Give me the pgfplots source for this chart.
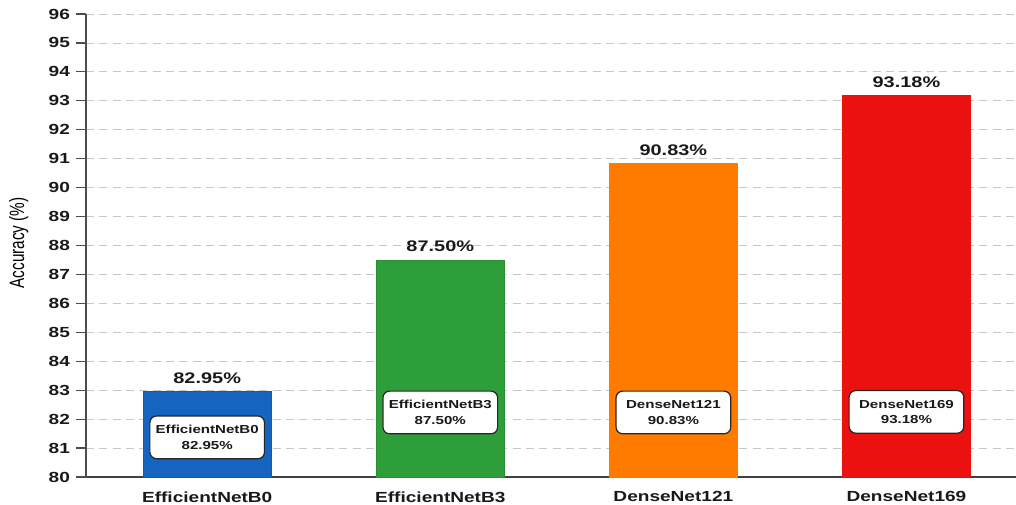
\documentclass[border=0pt]{standalone}
\usepackage{graphicx}
\usepackage{pgfplots}
\pgfplotsset{compat=1.18}
\usepackage{fontspec}
\setmainfont{Liberation Sans}[FakeStretch=1.3]
\newfontfamily\ylabfont{Liberation Sans}
\definecolor{cblue}{RGB}{21,101,192}
\definecolor{cgreen}{RGB}{46,158,58}
\definecolor{corange}{RGB}{255,123,0}
\definecolor{cred}{RGB}{236,17,17}
\begin{document}
\begin{tikzpicture}
\begin{axis}[
  width=697.5pt, height=347.25pt, scale only axis,
  ymin=80, ymax=96, ytick distance=1,
  xmin=-0.52, xmax=3.47,
  xtick={0,1,2,3},
  xticklabels={EfficientNetB0,EfficientNetB3,DenseNet121,DenseNet169},
  axis lines=left,
  axis line style={-, black!70, line width=1.1pt},
  x axis line style={-, black!75, line width=1.2pt},
  xtick style={draw=none},
  ytick style={black!70, line width=0.9pt},
  tick align=outside, major tick length=7.5pt,
  /pgf/number format/assume math mode=true,
  ticklabel style={font=\fontsize{11}{12}\selectfont\bfseries, text=black!90},
  yticklabel style={xshift=-1pt},
  xticklabel style={yshift=0pt},
  ymajorgrids, grid style={dashed, dash pattern=on 6pt off 4pt, black!22, line width=0.6pt},
  ylabel={\scalebox{1}[1.35]{\ylabfont\fontsize{11.5}{13}\selectfont Accuracy (\%)}},
  ylabel style={at={(axis description cs:0,0.5)}, anchor=center, yshift=50.5pt, xshift=2pt},
  ybar, bar width=96pt, bar shift=0pt,
  nodes near coords={\pgfmathprintnumber[fixed,fixed zerofill,precision=2]{\pgfplotspointmeta}\%},
  nodes near coords style={font=\fontsize{11.5}{13}\selectfont\bfseries, text=black!90, anchor=south, yshift=2.5pt},
  clip=false,
]
\addplot[fill=cblue, draw=cblue!90!black] coordinates {(0,82.95)};
\addplot[fill=cgreen, draw=cgreen!90!black] coordinates {(1,87.50)};
\addplot[fill=corange, draw=corange] coordinates {(2,90.83)};
\addplot[fill=cred, draw=cred] coordinates {(3,93.18)};
\tikzset{bx/.style={draw=black!85, line width=0.9pt, fill=white, rounded corners=5pt, align=center,
  minimum width=86pt, minimum height=32pt, inner sep=2pt,
  font=\fontsize{8.7}{11.5}\selectfont\bfseries, text=black!90}}
\node[bx] at (axis cs:0,81.37) {EfficientNetB0\\82.95\%};
\node[bx] at (axis cs:1,82.23) {EfficientNetB3\\87.50\%};
\node[bx] at (axis cs:2,82.23) {DenseNet121\\90.83\%};
\node[bx] at (axis cs:3,82.25) {DenseNet169\\93.18\%};
\end{axis}
\pgfresetboundingbox
\path ([xshift=-64.5pt,yshift=-21pt]current axis.south west) rectangle ([yshift=10.5pt]current axis.north east);
\end{tikzpicture}
\end{document}
